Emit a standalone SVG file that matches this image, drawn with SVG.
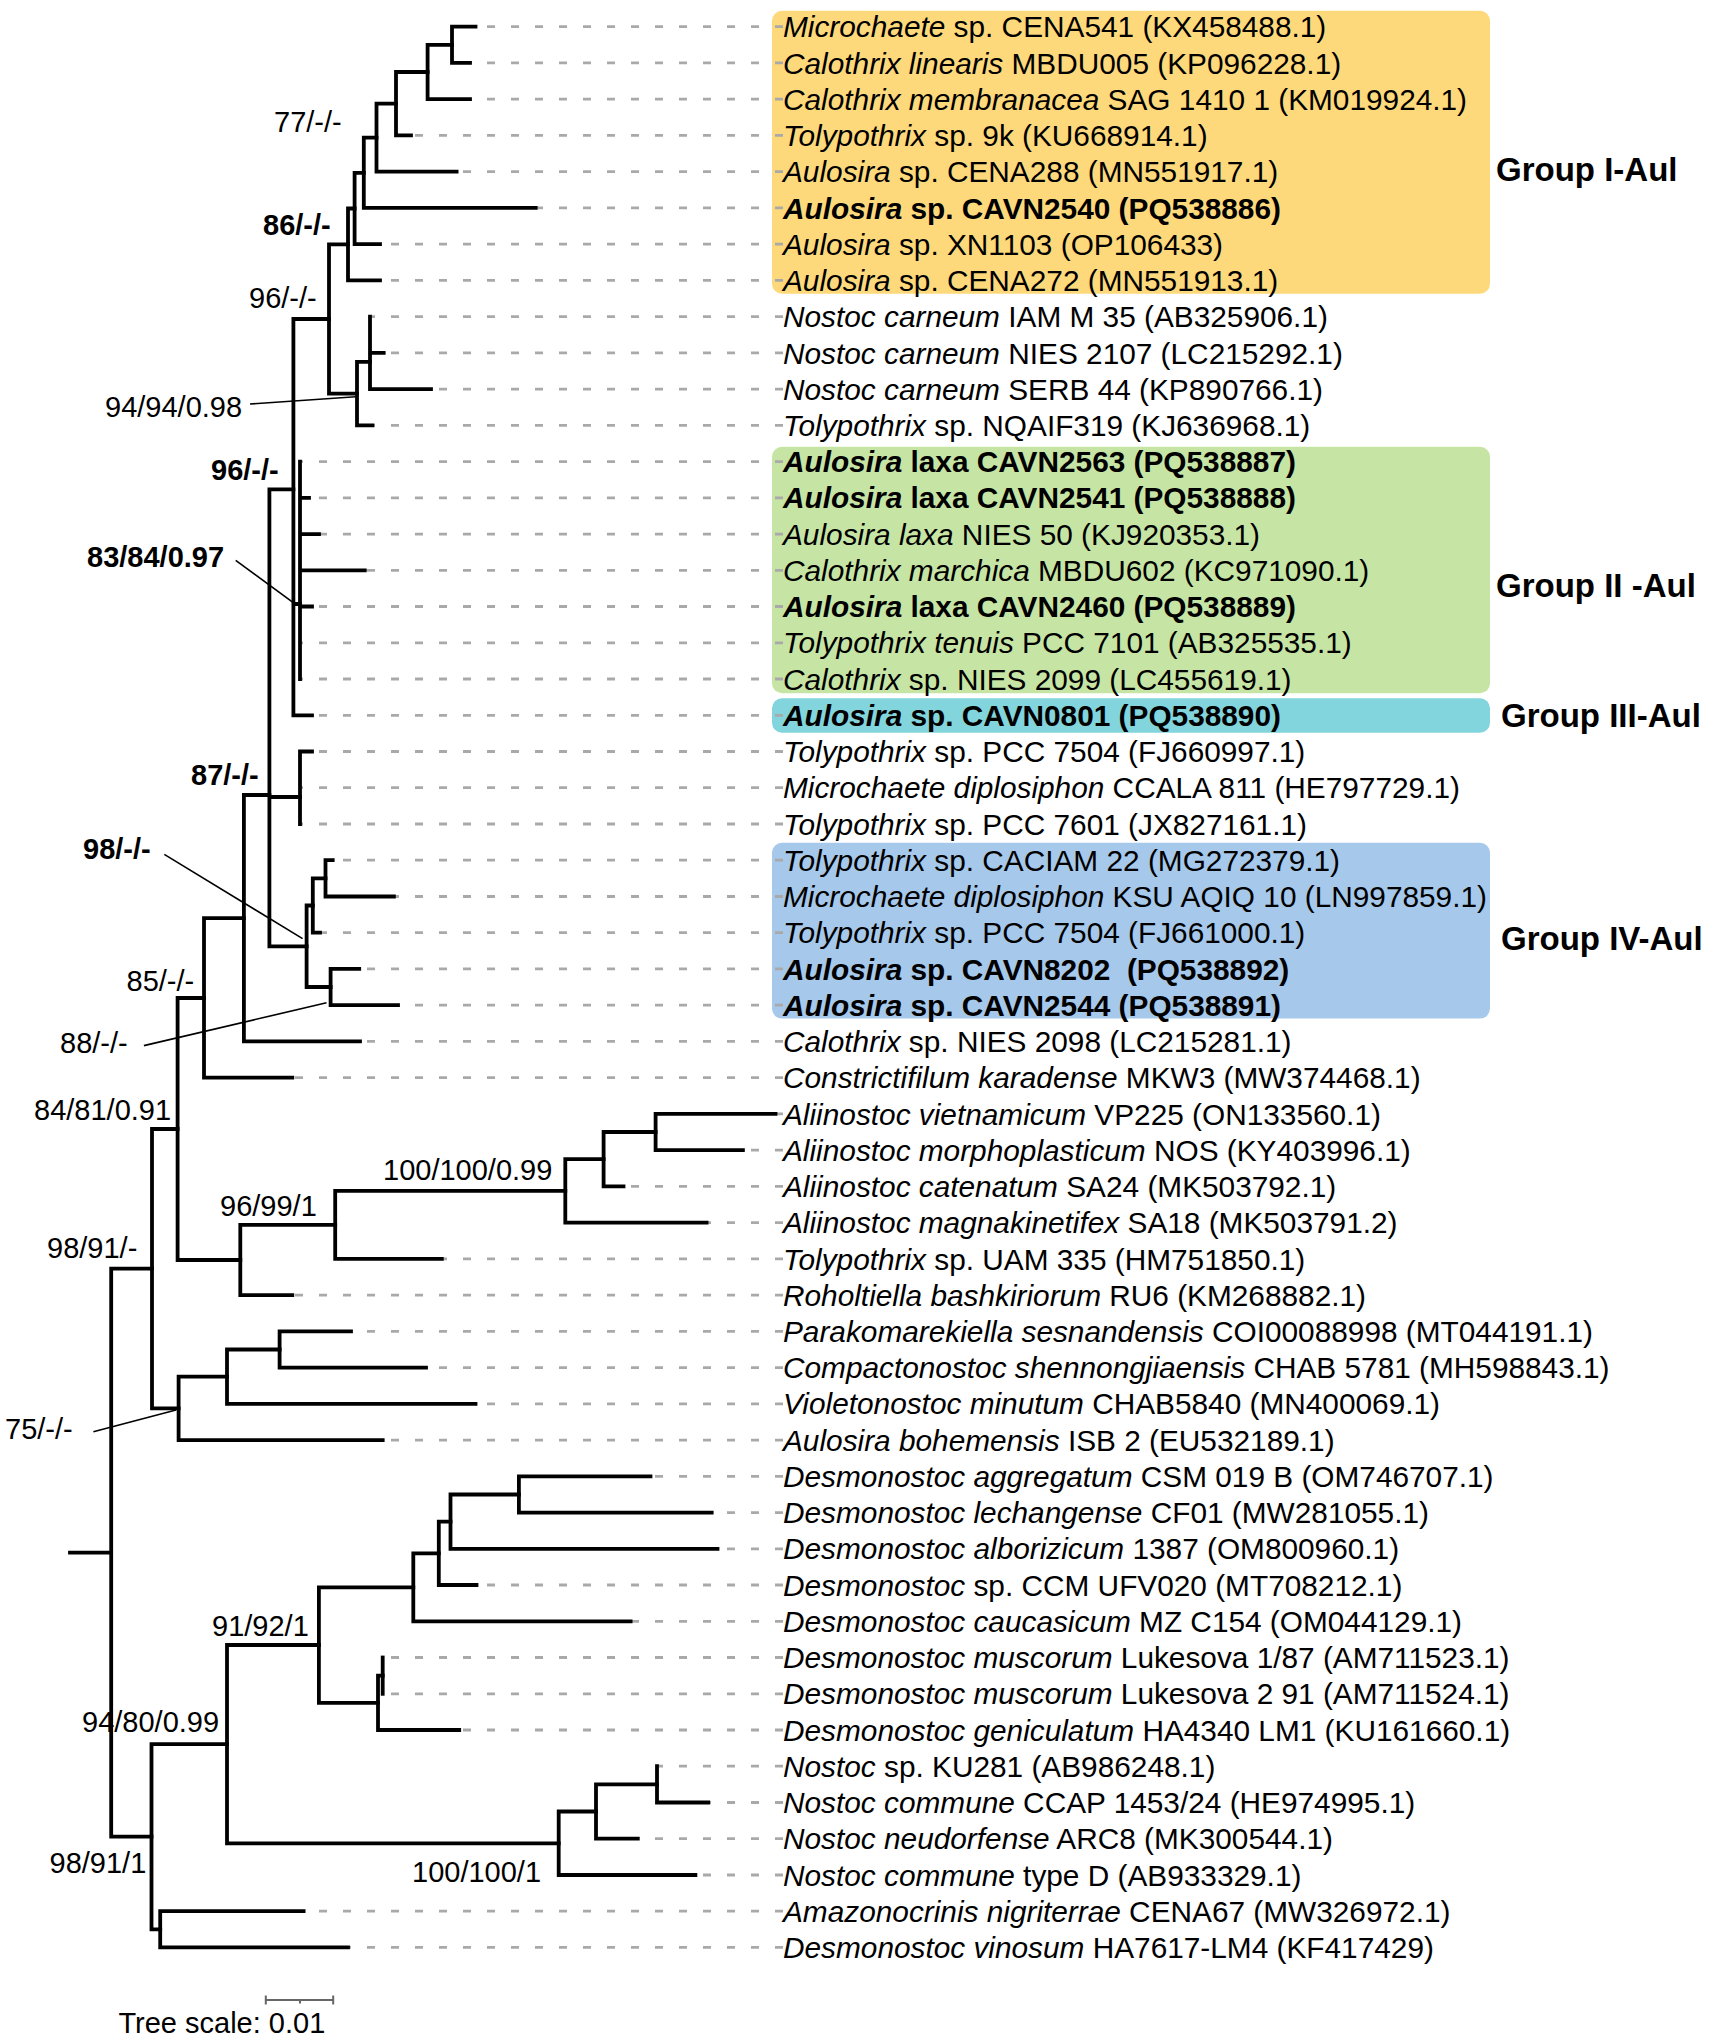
<svg xmlns="http://www.w3.org/2000/svg" width="1710" height="2043" viewBox="0 0 1710 2043">
<style>
text{font-family:"Liberation Sans",Arial,sans-serif;fill:#000}
.lf{font-size:29.8px}
.sp{font-size:29px}
.b{font-weight:bold}
.i{font-style:italic}
.gl{font-size:33px;font-weight:bold}
.br{stroke:#000;stroke-width:3.8;fill:none;stroke-linecap:square}
.ds{stroke:#a9a9a9;stroke-width:2.8;fill:none;stroke-dasharray:8 16}
.pt{stroke:#000;stroke-width:1.6;fill:none}
.sc{stroke:#666;stroke-width:2;fill:none}
</style>
<g id="group-boxes">
<rect id="box-I" x="772" y="10.7" width="718" height="283" rx="10" fill="#FED97B"/>
<rect id="box-II" x="772" y="446.7" width="718" height="246.6" rx="10" fill="#C6E5A5"/>
<rect id="box-III" x="772" y="698.3" width="718" height="34.4" rx="10" fill="#82D5DC"/>
<rect id="box-IV" x="772" y="842.7" width="718" height="175.9" rx="10" fill="#A6C8EA"/>
</g>
<g id="connectors">
<g id="dashes">
<path class="ds" d="M783 26.7H475.5M783 62.9H470M783 99.2H470M783 135.4H411M783 171.7H456.6M783 207.9H535.7M783 244.1H380M783 280.4H380M783 316.6H370M783 352.9H383.7M783 389.1H431M783 425.3H372.4M783 461.6H300M783 497.8H309M783 534.1H319M783 570.3H364.8M783 606.5H312M783 642.8H300M783 679H300M783 715.3H312M783 751.5H312M783 787.7H300M783 824H300M783 860.2H332.7M783 896.5H393.9M783 932.7H320M783 968.9H359.2M783 1005.2H398M783 1041.4H360M783 1077.7H292.3M783 1113.9H775.5M783 1150.2H742.9M783 1186.4H623.5M783 1222.6H706.6M783 1258.9H441.8M783 1295.1H292.3M783 1331.4H351M783 1367.6H426M783 1403.8H475.5M783 1440.1H382.7M783 1476.3H650.5M783 1512.6H711.7M783 1548.8H717.5M783 1585H476.5M783 1621.3H630.6M783 1657.5H384M783 1693.8H384M783 1730H459.2M783 1766.2H657M783 1802.5H708.2M783 1838.7H637.8M783 1875H695.4M783 1911.2H303.6M783 1947.4H348"/>
</g>
<g id="branches">
<path class="br" d="M70 1552.7H111.2M111.2 1268.7V1836.7M111.2 1268.7H152M111.2 1836.7H151.5"/>
<path class="br" d="M152 1129V1408.4M152 1129H177.6M152 1408.4H178.6"/>
<path class="br" d="M177.6 998V1260M177.6 998H204M177.6 1260H240.3"/>
<path class="br" d="M204 918.2V1077.7M204 918.2H243.9M204 1077.7H292.3"/>
<path class="br" d="M243.9 795V1041.4M243.9 795H269.4M243.9 1041.4H360"/>
<path class="br" d="M269.4 489.3V946.3M269.4 489.3H293.4M269.4 797H300M269.4 946.3H306.6"/>
<path class="br" d="M293.4 319V715.3M293.4 319H329M293.4 604H300M293.4 715.3H312"/>
<path class="br" d="M329 244.4V393.6M329 244.4H348M329 393.6H357"/>
<path class="br" d="M348 208.5V280.4M348 208.5H354.6M348 280.4H380"/>
<path class="br" d="M354.6 172.8V244.1M354.6 172.8H363.8M354.6 244.1H380"/>
<path class="br" d="M363.8 137.7V207.9M363.8 137.7H376.5M363.8 207.9H535.7"/>
<path class="br" d="M376.5 103.7V171.7M376.5 103.7H396M376.5 171.7H456.6"/>
<path class="br" d="M396 72V135.4M396 72H427.6M396 135.4H411"/>
<path class="br" d="M427.6 44.8V99.2M427.6 44.8H452M427.6 99.2H470"/>
<path class="br" d="M452 26.7V62.9M452 26.7H475.5M452 62.9H470"/>
<path class="br" d="M357 361.9V425.3M357 361.9H370M357 425.3H372.4"/>
<path class="br" d="M370 316.6V389.1M370 352.9H383.7M370 389.1H431"/>
<path class="br" d="M300 461.6V679M300 497.8H309M300 534.1H319M300 570.3H364.8M300 606.5H312"/>
<path class="br" d="M300 751.5V824M300 751.5H312"/>
<path class="br" d="M306.6 905.5V987M306.6 905.5H312.8M306.6 987H330.6"/>
<path class="br" d="M312.8 878.3V932.7M312.8 878.3H325.5M312.8 932.7H320"/>
<path class="br" d="M325.5 860.2V896.5M325.5 860.2H332.7M325.5 896.5H393.9"/>
<path class="br" d="M330.6 968.9V1005.2M330.6 968.9H359.2M330.6 1005.2H398"/>
<path class="br" d="M240.3 1224.9V1295.1M240.3 1224.9H335.2M240.3 1295.1H292.3"/>
<path class="br" d="M335.2 1190.9V1258.9M335.2 1190.9H565.3M335.2 1258.9H441.8"/>
<path class="br" d="M565.3 1159.2V1222.6M565.3 1159.2H603.6M565.3 1222.6H706.6"/>
<path class="br" d="M603.6 1132V1186.4M603.6 1132H655.6M603.6 1186.4H623.5"/>
<path class="br" d="M655.6 1113.9V1150.2M655.6 1113.9H775.5M655.6 1150.2H742.9"/>
<path class="br" d="M178.6 1376.7V1440.1M178.6 1376.7H227M178.6 1440.1H382.7"/>
<path class="br" d="M227 1349.5V1403.8M227 1349.5H279.6M227 1403.8H475.5"/>
<path class="br" d="M279.6 1331.4V1367.6M279.6 1331.4H351M279.6 1367.6H426"/>
<path class="br" d="M151.5 1744.1V1929.3M151.5 1744.1H227M151.5 1929.3H160.2"/>
<path class="br" d="M227 1645V1843.3M227 1645H318.9M227 1843.3H558.7"/>
<path class="br" d="M318.9 1587.3V1702.8M318.9 1587.3H413.3M318.9 1702.8H378"/>
<path class="br" d="M413.3 1553.3V1621.3M413.3 1553.3H438.8M413.3 1621.3H630.6"/>
<path class="br" d="M438.8 1521.6V1585M438.8 1521.6H450.5M438.8 1585H476.5"/>
<path class="br" d="M450.5 1494.5V1548.8M450.5 1494.5H518.9M450.5 1548.8H717.5"/>
<path class="br" d="M518.9 1476.3V1512.6M518.9 1476.3H650.5M518.9 1512.6H711.7"/>
<path class="br" d="M378 1675.6V1730M378 1675.6H382.7M378 1730H459.2"/>
<path class="br" d="M382.7 1657.5V1693.8"/>
<path class="br" d="M558.7 1811.5V1875M558.7 1811.5H596M558.7 1875H695.4"/>
<path class="br" d="M596 1784.4V1838.7M596 1784.4H657M596 1838.7H637.8"/>
<path class="br" d="M657 1766.2V1802.5M657 1802.5H708.2"/>
<path class="br" d="M160.2 1911.2V1947.4M160.2 1911.2H303.6M160.2 1947.4H348"/>
</g>
<g id="pointers">
<path class="pt" d="M250 404L355.6 396.7"/>
<path class="pt" d="M235.7 560.4L297 605.3"/>
<path class="pt" d="M164.3 854.4L302.6 938.6"/>
<path class="pt" d="M143.9 1045.6L326.5 1002.8"/>
<path class="pt" d="M93.4 1431.7L176 1410"/>
</g>
</g>
<g id="support-labels">
<text class="sp" x="274" y="132">77/-/-</text>
<text class="sp b" x="263" y="235">86/-/-</text>
<text class="sp" x="249" y="308">96/-/-</text>
<text class="sp" x="105" y="417">94/94/0.98</text>
<text class="sp b" x="211" y="480">96/-/-</text>
<text class="sp b" x="87" y="567">83/84/0.97</text>
<text class="sp b" x="191" y="785">87/-/-</text>
<text class="sp b" x="83" y="858.6">98/-/-</text>
<text class="sp" x="126.5" y="991">85/-/-</text>
<text class="sp" x="60" y="1052.6">88/-/-</text>
<text class="sp" x="34" y="1120">84/81/0.91</text>
<text class="sp" x="383" y="1180">100/100/0.99</text>
<text class="sp" x="220" y="1216">96/99/1</text>
<text class="sp" x="47" y="1258">98/91/-</text>
<text class="sp" x="5" y="1439">75/-/-</text>
<text class="sp" x="212" y="1636">91/92/1</text>
<text class="sp" x="82" y="1732">94/80/0.99</text>
<text class="sp" x="49.5" y="1873">98/91/1</text>
<text class="sp" x="412" y="1882">100/100/1</text>
</g>
<g id="leaves">
<g id="leaf-1"><text class="lf" x="783" y="37.3"><tspan class="i">Microchaete</tspan> sp. CENA541 (KX458488.1)</text></g>
<g id="leaf-2"><text class="lf" x="783" y="73.5"><tspan class="i">Calothrix linearis</tspan> MBDU005 (KP096228.1)</text></g>
<g id="leaf-3"><text class="lf" x="783" y="109.8"><tspan class="i">Calothrix membranacea</tspan> SAG 1410 1 (KM019924.1)</text></g>
<g id="leaf-4"><text class="lf" x="783" y="146"><tspan class="i">Tolypothrix</tspan> sp. 9k (KU668914.1)</text></g>
<g id="leaf-5"><text class="lf" x="783" y="182.3"><tspan class="i">Aulosira</tspan> sp. CENA288 (MN551917.1)</text></g>
<g id="leaf-6"><text class="lf b" x="783" y="218.5"><tspan class="i">Aulosira</tspan> sp. CAVN2540 (PQ538886)</text></g>
<g id="leaf-7"><text class="lf" x="783" y="254.7"><tspan class="i">Aulosira</tspan> sp. XN1103 (OP106433)</text></g>
<g id="leaf-8"><text class="lf" x="783" y="291"><tspan class="i">Aulosira</tspan> sp. CENA272 (MN551913.1)</text></g>
<g id="leaf-9"><text class="lf" x="783" y="327.2"><tspan class="i">Nostoc carneum</tspan> IAM M 35 (AB325906.1)</text></g>
<g id="leaf-10"><text class="lf" x="783" y="363.5"><tspan class="i">Nostoc carneum</tspan> NIES 2107 (LC215292.1)</text></g>
<g id="leaf-11"><text class="lf" x="783" y="399.7"><tspan class="i">Nostoc carneum</tspan> SERB 44 (KP890766.1)</text></g>
<g id="leaf-12"><text class="lf" x="783" y="435.9"><tspan class="i">Tolypothrix</tspan> sp. NQAIF319 (KJ636968.1)</text></g>
<g id="leaf-13"><text class="lf b" x="783" y="472.2"><tspan class="i">Aulosira</tspan> laxa CAVN2563 (PQ538887)</text></g>
<g id="leaf-14"><text class="lf b" x="783" y="508.4"><tspan class="i">Aulosira</tspan> laxa CAVN2541 (PQ538888)</text></g>
<g id="leaf-15"><text class="lf" x="783" y="544.7"><tspan class="i">Aulosira laxa</tspan> NIES 50 (KJ920353.1)</text></g>
<g id="leaf-16"><text class="lf" x="783" y="580.9"><tspan class="i">Calothrix marchica</tspan> MBDU602 (KC971090.1)</text></g>
<g id="leaf-17"><text class="lf b" x="783" y="617.1"><tspan class="i">Aulosira</tspan> laxa CAVN2460 (PQ538889)</text></g>
<g id="leaf-18"><text class="lf" x="783" y="653.4"><tspan class="i">Tolypothrix tenuis</tspan> PCC 7101 (AB325535.1)</text></g>
<g id="leaf-19"><text class="lf" x="783" y="689.6"><tspan class="i">Calothrix</tspan> sp. NIES 2099 (LC455619.1)</text></g>
<g id="leaf-20"><text class="lf b" x="783" y="725.9"><tspan class="i">Aulosira</tspan> sp. CAVN0801 (PQ538890)</text></g>
<g id="leaf-21"><text class="lf" x="783" y="762.1"><tspan class="i">Tolypothrix</tspan> sp. PCC 7504 (FJ660997.1)</text></g>
<g id="leaf-22"><text class="lf" x="783" y="798.3"><tspan class="i">Microchaete diplosiphon</tspan> CCALA 811 (HE797729.1)</text></g>
<g id="leaf-23"><text class="lf" x="783" y="834.6"><tspan class="i">Tolypothrix</tspan> sp. PCC 7601 (JX827161.1)</text></g>
<g id="leaf-24"><text class="lf" x="783" y="870.8"><tspan class="i">Tolypothrix</tspan> sp. CACIAM 22 (MG272379.1)</text></g>
<g id="leaf-25"><text class="lf" x="783" y="907.1"><tspan class="i">Microchaete diplosiphon</tspan> KSU AQIQ 10 (LN997859.1)</text></g>
<g id="leaf-26"><text class="lf" x="783" y="943.3"><tspan class="i">Tolypothrix</tspan> sp. PCC 7504 (FJ661000.1)</text></g>
<g id="leaf-27"><text class="lf b" x="783" y="979.5"><tspan class="i">Aulosira</tspan> sp. CAVN8202&#160; (PQ538892)</text></g>
<g id="leaf-28"><text class="lf b" x="783" y="1015.8"><tspan class="i">Aulosira</tspan> sp. CAVN2544 (PQ538891)</text></g>
<g id="leaf-29"><text class="lf" x="783" y="1052"><tspan class="i">Calothrix</tspan> sp. NIES 2098 (LC215281.1)</text></g>
<g id="leaf-30"><text class="lf" x="783" y="1088.3"><tspan class="i">Constrictifilum karadense</tspan> MKW3 (MW374468.1)</text></g>
<g id="leaf-31"><text class="lf" x="783" y="1124.5"><tspan class="i">Aliinostoc vietnamicum</tspan> VP225 (ON133560.1)</text></g>
<g id="leaf-32"><text class="lf" x="783" y="1160.8"><tspan class="i">Aliinostoc morphoplasticum</tspan> NOS (KY403996.1)</text></g>
<g id="leaf-33"><text class="lf" x="783" y="1197"><tspan class="i">Aliinostoc catenatum</tspan> SA24 (MK503792.1)</text></g>
<g id="leaf-34"><text class="lf" x="783" y="1233.2"><tspan class="i">Aliinostoc magnakinetifex</tspan> SA18 (MK503791.2)</text></g>
<g id="leaf-35"><text class="lf" x="783" y="1269.5"><tspan class="i">Tolypothrix</tspan> sp. UAM 335 (HM751850.1)</text></g>
<g id="leaf-36"><text class="lf" x="783" y="1305.7"><tspan class="i">Roholtiella bashkiriorum</tspan> RU6 (KM268882.1)</text></g>
<g id="leaf-37"><text class="lf" x="783" y="1342"><tspan class="i">Parakomarekiella sesnandensis</tspan> COI00088998 (MT044191.1)</text></g>
<g id="leaf-38"><text class="lf" x="783" y="1378.2"><tspan class="i">Compactonostoc shennongjiaensis</tspan> CHAB 5781 (MH598843.1)</text></g>
<g id="leaf-39"><text class="lf" x="783" y="1414.4"><tspan class="i">Violetonostoc minutum</tspan> CHAB5840 (MN400069.1)</text></g>
<g id="leaf-40"><text class="lf" x="783" y="1450.7"><tspan class="i">Aulosira bohemensis</tspan> ISB 2 (EU532189.1)</text></g>
<g id="leaf-41"><text class="lf" x="783" y="1486.9"><tspan class="i">Desmonostoc aggregatum</tspan> CSM 019 B (OM746707.1)</text></g>
<g id="leaf-42"><text class="lf" x="783" y="1523.2"><tspan class="i">Desmonostoc lechangense</tspan> CF01 (MW281055.1)</text></g>
<g id="leaf-43"><text class="lf" x="783" y="1559.4"><tspan class="i">Desmonostoc alborizicum</tspan> 1387 (OM800960.1)</text></g>
<g id="leaf-44"><text class="lf" x="783" y="1595.6"><tspan class="i">Desmonostoc</tspan> sp. CCM UFV020 (MT708212.1)</text></g>
<g id="leaf-45"><text class="lf" x="783" y="1631.9"><tspan class="i">Desmonostoc caucasicum</tspan> MZ C154 (OM044129.1)</text></g>
<g id="leaf-46"><text class="lf" x="783" y="1668.1"><tspan class="i">Desmonostoc muscorum</tspan> Lukesova 1/87 (AM711523.1)</text></g>
<g id="leaf-47"><text class="lf" x="783" y="1704.4"><tspan class="i">Desmonostoc muscorum</tspan> Lukesova 2 91 (AM711524.1)</text></g>
<g id="leaf-48"><text class="lf" x="783" y="1740.6"><tspan class="i">Desmonostoc geniculatum</tspan> HA4340 LM1 (KU161660.1)</text></g>
<g id="leaf-49"><text class="lf" x="783" y="1776.8"><tspan class="i">Nostoc</tspan> sp. KU281 (AB986248.1)</text></g>
<g id="leaf-50"><text class="lf" x="783" y="1813.1"><tspan class="i">Nostoc commune</tspan> CCAP 1453/24 (HE974995.1)</text></g>
<g id="leaf-51"><text class="lf" x="783" y="1849.3"><tspan class="i">Nostoc neudorfense</tspan> ARC8 (MK300544.1)</text></g>
<g id="leaf-52"><text class="lf" x="783" y="1885.6"><tspan class="i">Nostoc commune</tspan> type D (AB933329.1)</text></g>
<g id="leaf-53"><text class="lf" x="783" y="1921.8"><tspan class="i">Amazonocrinis nigriterrae</tspan> CENA67 (MW326972.1)</text></g>
<g id="leaf-54"><text class="lf" x="783" y="1958"><tspan class="i">Desmonostoc vinosum</tspan> HA7617-LM4 (KF417429)</text></g>
</g>
<g id="group-labels">
<text class="gl" x="1496" y="181">Group I-Aul</text>
<text class="gl" x="1496" y="597">Group II -Aul</text>
<text class="gl" x="1501" y="727">Group III-Aul</text>
<text class="gl" x="1501" y="950">Group IV-Aul</text>
</g>
<g id="scale-bar">
<path class="sc" d="M265.8 2000H333.2M265.8 1995.5V2004.5M333.2 1995.5V2004.5M300 2000V2003.5"/>
<text class="sp" x="118.4" y="2033">Tree scale: 0.01</text>
</g>
</svg>
